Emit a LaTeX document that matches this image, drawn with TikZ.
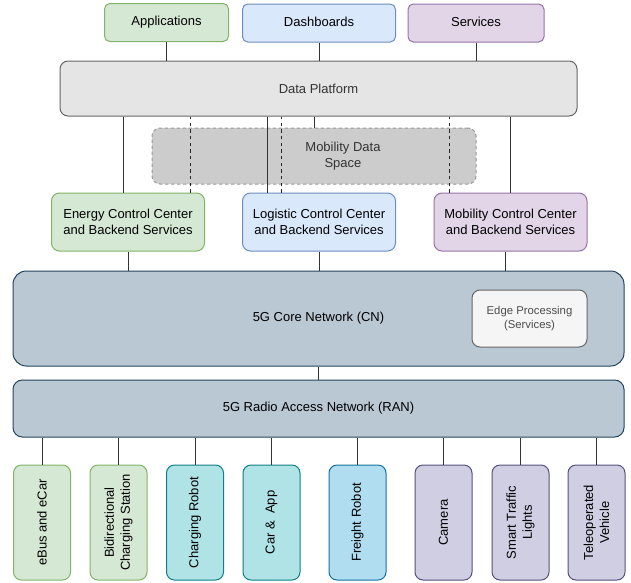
\documentclass[tikz,border=0pt]{standalone}
\usepackage{fontspec}
\setmainfont{Liberation Sans}

\definecolor{grnfill}{HTML}{D5E8D4}\definecolor{grnline}{HTML}{82B366}
\definecolor{blufill}{HTML}{DAE8FC}\definecolor{bluline}{HTML}{6C8EBF}
\definecolor{purfill}{HTML}{E1D5E7}\definecolor{purline}{HTML}{9673A6}
\definecolor{telfill}{HTML}{B0E3E6}\definecolor{telline}{HTML}{0E8088}
\definecolor{cyafill}{HTML}{B1DDF0}\definecolor{cyaline}{HTML}{10739E}
\definecolor{lavfill}{HTML}{D0CEE2}\definecolor{lavline}{HTML}{56517E}
\definecolor{netfill}{HTML}{BAC8D3}\definecolor{netline}{HTML}{23445D}

\tikzset{
  box/.style={draw, line width=0.75pt, rounded corners=4pt, align=center, inner sep=0pt,
    font=\fontsize{9.75pt}{12pt}\selectfont},
  grn/.style={fill=grnfill, draw=grnline},
  blu/.style={fill=blufill, draw=bluline},
  pur/.style={fill=purfill, draw=purline},
  tel/.style={fill=telfill, draw=telline},
  cya/.style={fill=cyafill, draw=cyaline},
  lav/.style={fill=lavfill, draw=lavline},
  net/.style={fill=netfill, draw=netline},
  top/.style={minimum height=28.5pt, text height=7pt, text depth=2pt},
  ctr/.style={minimum width=114.75pt, minimum height=43.5pt, rounded corners=6pt},
  dev/.style={minimum width=86.25pt, minimum height=42.75pt, rounded corners=6pt},
  link/.style={draw=black!80, line width=0.75pt},
  dashln/.style={draw=black!85, line width=0.75pt, dash pattern=on 2.5pt off 2.5pt}
}

\begin{document}
\begin{tikzpicture}[x=0.75pt,y=-0.75pt]
  \useasboundingbox (0,0) rectangle (631,582);

  % top row
  \node[box,grn,top,minimum width=93pt] (app) at (166.5,22.5) {Applications};
  \node[box,blu,top,minimum width=114.75pt] (dash) at (319,23) {Dashboards};
  \node[box,pur,top,minimum width=102pt] (serv) at (476,23) {Services};

  \node[box,fill=black!10,draw=black!60,text=black!80,minimum width=387.75pt,
    minimum height=41.25pt,rounded corners=6pt] (dp) at (318.5,88.5) {Data Platform};
  \node[box,fill=black!20,draw=black!40,dash pattern=on 2.5pt off 2pt,
    minimum width=243pt,minimum height=42pt,rounded corners=6pt] (mds) at (314,156) {};
  \node[align=center,inner sep=0pt,text=black!80,font=\fontsize{9.75pt}{12pt}\selectfont]
    (mdstext) at (343,156) {Mobility Data\\Space};

  % control centers
  \node[box,grn,ctr] (ecc) at (128,222) {Energy Control Center\\and Backend Services};
  \node[box,blu,ctr] (lcc) at (319,222) {Logistic Control Center\\and Backend Services};
  \node[box,pur,ctr] (mcc) at (510.5,222) {Mobility Control Center\\and Backend Services};

  % networks
  \node[box,net,minimum width=458.25pt,minimum height=71.25pt,rounded corners=10pt] (cn) at (318.5,318.5) {5G Core Network (CN)};
  \node[box,fill=black!4,draw=black!60,text=black!70,minimum width=86.25pt,minimum height=42.75pt,
    rounded corners=6pt,font=\fontsize{8.5pt}{11pt}\selectfont] (edge) at (529.5,318.5) {Edge Processing\\(Services)};
  \node[box,net,minimum width=458.25pt,minimum height=42.75pt,rounded corners=7pt] (ran) at (318.5,408.5) {5G Radio Access Network (RAN)};

  % devices
  \foreach \n/\x/\s/\t in {1/42/grn/{eBus and eCar},2/118.5/grn/{Bidirectional\\Charging Station},
      3/195/tel/{Charging Robot},4/271.5/tel/{Car \&~ App},5/357.5/cya/{Freight Robot},
      6/443.5/lav/{Camera},7/520.5/lav/{Smart Traffic\\Lights},8/596.5/lav/{Teleoperated\\Vehicle}}
    \node[box,dev,\s,rotate=90] (d\n) at (\x,522.5) {\t};

  % connectors
  \draw[link] (app.south) -- (app.south |- dp.north);
  \draw[link] (dash.south) -- (dash.south |- dp.north);
  \draw[link] (serv.south) -- (serv.south |- dp.north);
  \draw[link] (mds.north) -- (mds.north |- dp.south);
  \draw[link] ([xshift=-3.75pt]ecc.north) -- ([xshift=-3.75pt]ecc.north |- dp.south);
  \draw[link] ([xshift=-39pt]lcc.north) -- ([xshift=-39pt]lcc.north |- dp.south);
  \draw[link] (mcc.north) -- (mcc.north |- dp.south);
  \draw[dashln] ([xshift=46.5pt]ecc.north) -- ([xshift=46.5pt]ecc.north |- dp.south);
  \draw[dashln] ([xshift=-28.5pt]lcc.north) -- ([xshift=-28.5pt]lcc.north |- dp.south);
  \draw[dashln] ([xshift=-45.4pt]mcc.north) -- ([xshift=-45.4pt]mcc.north |- dp.south);

  \draw[link] (ecc.south) -- (ecc.south |- cn.north);
  \draw[link] (lcc.south) -- (lcc.south |- cn.north);
  \draw[link] ([xshift=-3.4pt]mcc.south) -- ([xshift=-3.4pt]mcc.south |- cn.north);
  \draw[link] (cn.south) -- (ran.north);

  \foreach \n in {1,...,8}
    \draw[link] (d\n.east) -- (d\n.east |- ran.south);
\end{tikzpicture}
\end{document}
